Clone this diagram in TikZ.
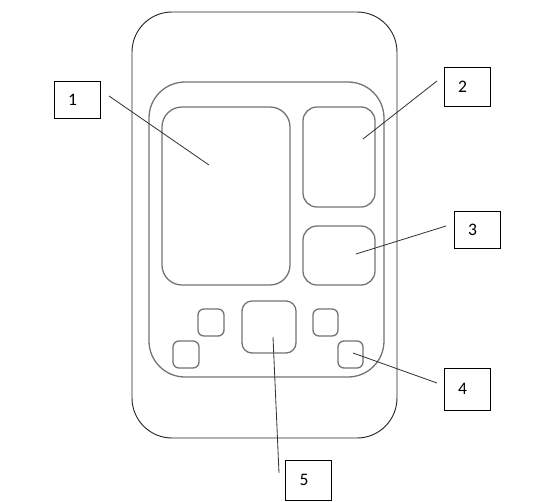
\documentclass[tikz,border=0pt]{standalone}
\usepackage{fontspec}
\setmainfont{Carlito}
\usepackage{tikz}
\def\px{0.03cm}
\tikzset{
	body/.style={draw=black!85, line width=0.8pt, rounded corners=40*\px},
	panel/.style={draw=black!55, line width=1.1pt},
	labelbox/.style={draw=black, line width=0.8pt, inner xsep=14*\px, inner ysep=0pt, text width=18*\px, align=left, font=\fontsize{15}{18}\selectfont},
	leader/.style={draw=black!80, line width=0.7pt}
}
\begin{document}
\begin{tikzpicture}[x=\px, y=-\px]
			%%%%% START %%%%%
			\useasboundingbox (0, 0) rectangle (549, 502);
			
			% case and screen panel
			\draw[body] (132, 12) rectangle (397, 438);
			\draw[panel, rounded corners=36*\px] (149, 82) rectangle (384, 377);
			
			% display areas
			\draw[panel, rounded corners=20*\px] (162, 107) rectangle (290, 285);
			\draw[panel, rounded corners=14*\px] (303, 107) rectangle (375, 207);
			\draw[panel, rounded corners=14*\px] (303, 226) rectangle (375, 285);
			
			% buttons
			\draw[panel, rounded corners=6*\px] (198, 309) rectangle (224, 336);
			\draw[panel, rounded corners=6*\px] (173, 341) rectangle (199, 368);
			\draw[panel, rounded corners=10*\px] (242, 301) rectangle (296, 353);
			\draw[panel, rounded corners=6*\px] (313, 309) rectangle (338, 336);
			\draw[panel, rounded corners=6*\px] (338, 341) rectangle (363, 368);
			
			% labels
			\node[labelbox, minimum width=46*\px, minimum height=37*\px] (n1) at (77, 99.5) {1};
			\node[labelbox, minimum width=44*\px, minimum height=39*\px] (n2) at (467, 86.5) {2};
			\node[labelbox, minimum width=42*\px, minimum height=37*\px] (n3) at (477, 229.5) {3};
			\node[labelbox, minimum width=42*\px, minimum height=42*\px] (n4) at (467, 389) {4};
			\node[labelbox, minimum width=41*\px, minimum height=40*\px] (n5) at (308.5, 480) {5};
			
			% leader ends
			\coordinate (s1) at (109, 96);   \coordinate (t1) at (209, 165);
			\coordinate (s2) at (437, 81);   \coordinate (t2) at (363, 139);
			\coordinate (s3) at (446, 226);  \coordinate (t3) at (356, 254);
			\coordinate (s4) at (437, 383);  \coordinate (t4) at (353, 353);
			\coordinate (s5) at (279, 473);  \coordinate (t5) at (273, 337);
			
			\foreach \i in {1,...,5}
				\draw[leader] (s\i) -- (t\i);
			%%%%% END %%%%%
\end{tikzpicture}
\end{document}
